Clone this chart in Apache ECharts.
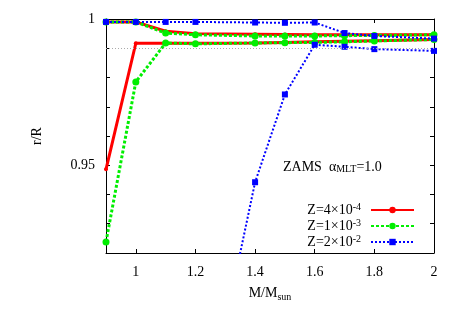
<!DOCTYPE html>
<html>
<head>
<meta charset="utf-8">
<script src="https://cdn.jsdelivr.net/npm/echarts@6/dist/echarts.min.js"></script>
<style>html,body{margin:0;padding:0;background:#fff}#c{width:458px;height:321px}</style>
</head>
<body>
<div id="c"></div>
<script>
// ---- data ----
var masses = [0.9, 1.0, 1.1, 1.2, 1.4, 1.5, 1.6, 1.7, 1.8, 2.0];
var seriesNames = ['Z=4e-4', 'Z=1e-3', 'Z=2e-2'];
var legendLabels = ['Z=4\u00d710{sup|-4}', 'Z=1\u00d710{sup|-3}', 'Z=2\u00d710{sup|-2}'];
var redUpper   = [0.9990, 0.9990, 0.9958, 0.9950, 0.9948, 0.9947, 0.9946, 0.9946, 0.9946, 0.9946];
var redLower   = [0.9486, 0.9917, 0.9917, 0.9917, 0.9918, 0.9920, 0.9922, 0.9924, 0.9926, 0.9930];
var greenUpper = [0.9990, 0.9990, 0.9952, 0.9946, 0.9942, 0.9942, 0.9942, 0.9943, 0.9944, 0.9946];
var greenLower = [0.9238, 0.9785, 0.9918, 0.9915, 0.9918, 0.9919, 0.9920, 0.9922, 0.9925, 0.9930];
var blueUpper  = [0.9990, 0.9990, 0.9990, 0.9990, 0.9988, 0.9987, 0.9988, 0.9952, 0.9942, 0.9933];
var blueLowerX = [1.2, 1.4, 1.5, 1.6, 1.7, 1.8, 2.0];
var blueLower  = [0.8474, 0.9442, 0.9742, 0.9912, 0.9905, 0.9897, 0.9891];
var xTickLabels = [1, 1.2, 1.4, 1.6, 1.8, 2];
var yTickLabels = [0.95, 1];
var yMinorTicks = [0.92, 0.93, 0.94, 0.95, 0.96, 0.97, 0.98, 0.99, 1.0];
var refLine = 0.99;

function pairs(xs, ys) { return xs.map(function (x, i) { return [x, ys[i]]; }); }

var serif = 'Liberation Serif';
var colors = ['#ff0000', '#00ee00', '#0000ff'];
var styles = [
  { lineStyle: { width: 3, type: 'solid' }, symbol: 'circle', symbolSize: 4 },
  { lineStyle: { width: 3, type: [3, 2] }, symbol: 'circle', symbolSize: 7 },
  { lineStyle: { width: 2, type: [2, 2] }, symbol: 'rect', symbolSize: 6 }
];
function mk(idx, data, extra) {
  var s = {
    type: 'line', name: seriesNames[idx], data: data,
    xAxisIndex: 0, yAxisIndex: 0,
    symbol: styles[idx].symbol, symbolSize: styles[idx].symbolSize,
    showSymbol: true, animation: false, clip: true,
    itemStyle: { color: colors[idx] },
    lineStyle: { color: colors[idx], width: styles[idx].lineStyle.width, type: styles[idx].lineStyle.type }
  };
  if (extra) for (var k in extra) s[k] = extra[k];
  return s;
}

var axisCommon = {
  axisLine: { show: true, onZero: false, lineStyle: { color: '#000', width: 1 } },
  splitLine: { show: false }
};

var chart = echarts.init(document.getElementById('c'), null, { renderer: 'canvas' });
chart.setOption({
  backgroundColor: '#fff',
  animation: false,
  grid: { left: 106, right: 24, top: 19, bottom: 68, containLabel: false },
  xAxis: [
    Object.assign({}, axisCommon, {
      type: 'value', min: 0.9, max: 2, position: 'bottom',
      name: 'M/M{sub|sun}', nameLocation: 'middle', nameGap: 30,
      nameTextStyle: { fontFamily: serif, fontSize: 14, color: '#000',
        rich: { sub: { fontFamily: serif, fontSize: 10, verticalAlign: 'bottom', lineHeight: 18, padding: [8, 0, 0, 0] } } },
      axisTick: { show: true, inside: true, length: 4, customValues: xTickLabels, lineStyle: { color: '#000' } },
      axisLabel: { show: true, customValues: xTickLabels, margin: 12, fontFamily: serif, fontSize: 14, color: '#000',
        formatter: function (v) { return String(v); } }
    }),
    Object.assign({}, axisCommon, {
      type: 'value', min: 0.9, max: 2, position: 'top',
      axisTick: { show: true, inside: true, length: 4, customValues: xTickLabels, lineStyle: { color: '#000' } },
      axisLabel: { show: false }
    })
  ],
  yAxis: [
    Object.assign({}, axisCommon, {
      type: 'value', min: 0.92, max: 1.0, position: 'left',
      name: 'r/R', nameLocation: 'middle', nameRotate: 90, nameGap: 62,
      nameTextStyle: { fontFamily: serif, fontSize: 14, color: '#000' },
      axisTick: { show: true, inside: true, length: 4, customValues: yMinorTicks, lineStyle: { color: '#000' } },
      axisLabel: { show: true, customValues: yTickLabels, margin: 11, fontFamily: serif, fontSize: 14, color: '#000',
        formatter: function (v) { return String(v); } }
    }),
    Object.assign({}, axisCommon, {
      type: 'value', min: 0.92, max: 1.0, position: 'right',
      axisTick: { show: true, inside: true, length: 4, customValues: yMinorTicks, lineStyle: { color: '#000' } },
      axisLabel: { show: false }
    })
  ],
  legend: {
    data: seriesNames,
    orient: 'vertical', right: 43, top: 202, align: 'right', padding: 0,
    itemWidth: 43, itemHeight: 8, itemGap: 0,
    selectedMode: false,
    formatter: function (name) { return legendLabels[seriesNames.indexOf(name)]; },
    textStyle: { fontFamily: serif, fontSize: 14, color: '#000', lineHeight: 16, padding: [0, 5, 0, 0],
      rich: { sup: { fontFamily: serif, fontSize: 10, verticalAlign: 'top', lineHeight: 10 } } }
  },
  graphic: [{
    type: 'text', left: 283, top: 158, silent: true,
    style: {
      text: 'ZAMS  \u03b1{sub|MLT}=1.0',
      font: '14px "Liberation Serif"', fill: '#000',
      rich: { sub: { fontFamily: serif, fontSize: 10, verticalAlign: 'bottom', lineHeight: 10, padding: [6, 0, 0, 0] } }
    }
  }],
  series: [
    mk(0, pairs(masses, redUpper), {
      markLine: { silent: true, symbol: 'none', label: { show: false },
        lineStyle: { color: '#aaaaaa', type: [1, 2], width: 1 }, data: [{ yAxis: refLine }] }
    }),
    mk(0, pairs(masses, redLower)),
    mk(1, pairs(masses, greenUpper)),
    mk(1, pairs(masses, greenLower)),
    mk(2, pairs(masses, blueUpper)),
    mk(2, pairs(blueLowerX, blueLower))
  ]
});
</script>
</body>
</html>
